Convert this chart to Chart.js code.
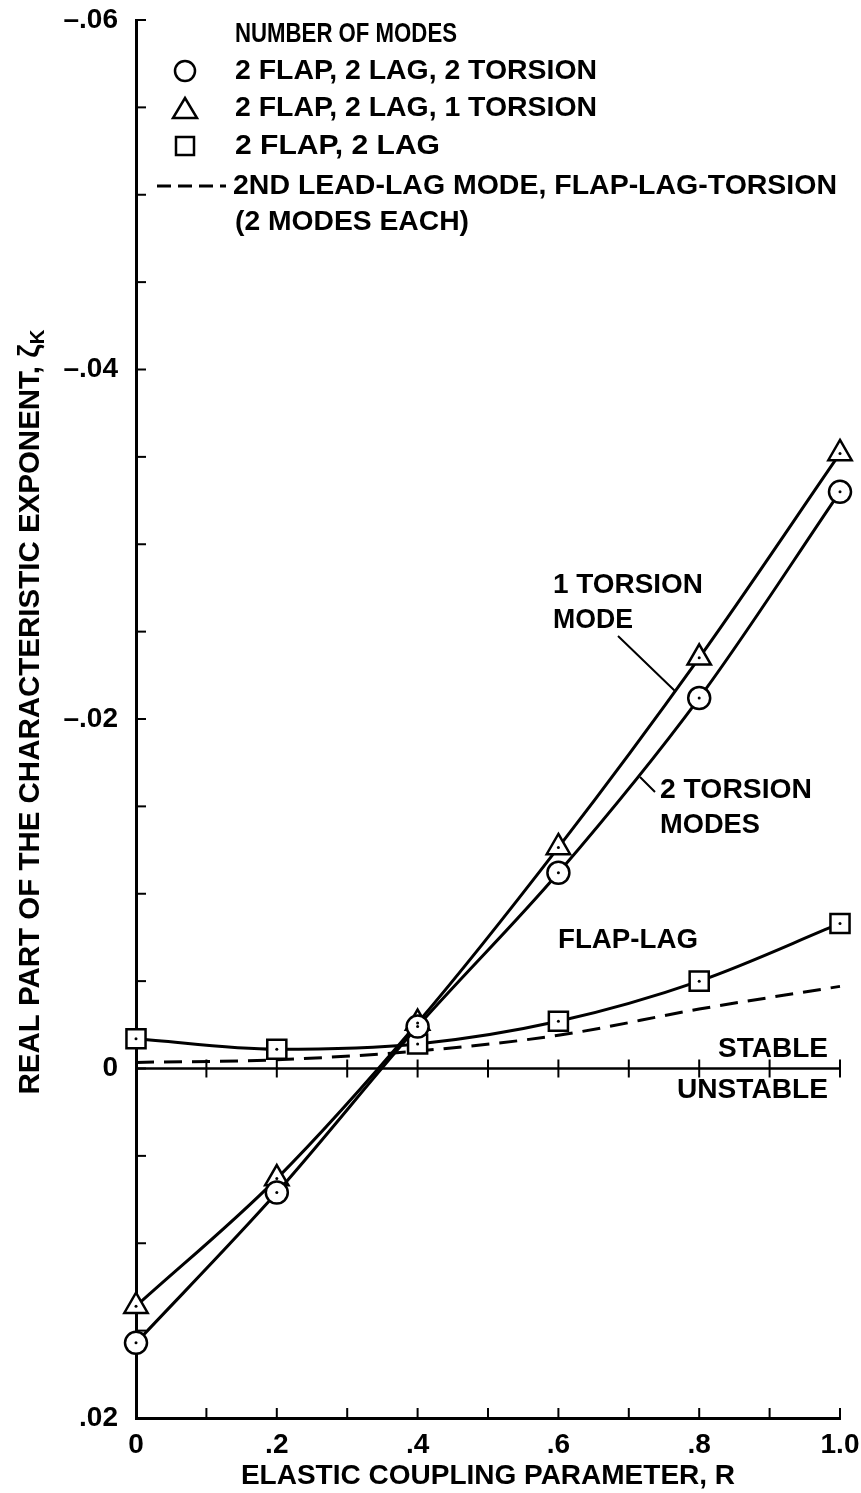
<!DOCTYPE html>
<html>
<head>
<meta charset="utf-8">
<script src="https://cdn.jsdelivr.net/npm/chart.js@4.4.1/dist/chart.umd.min.js"></script>
<style>
  html, body { margin: 0; padding: 0; background: #fff; }
  #wrap { width: 861px; height: 1493px; }
</style>
</head>
<body>
<div id="wrap"><canvas id="modesChart" width="861" height="1493"></canvas></div>
<script>
// Elastic coupling parameter R
const couplingR = [0, 0.2, 0.4, 0.6, 0.8, 1.0];
// Real part of the characteristic exponent for each mode set
const flapLagTorsion2 = [0.0157, 0.0071, -0.0024, -0.0112, -0.0212, -0.0330];
const flapLagTorsion1 = [0.0136, 0.0063, -0.0026, -0.01265, -0.0235, -0.0352];
const flapLagOnly = [-0.0017, -0.0011, -0.0014, -0.0027, -0.0050, -0.0083];
const secondLeadLag = [-0.00035, -0.0005, -0.0010, -0.0019, -0.0034, -0.0047];
const yTickLabels = { '-0.06': '\u2013.06', '-0.04': '\u2013.04', '-0.02': '\u2013.02', '0': '0', '0.02': '.02' };
const xTickLabels = { '0': '0', '2': '.2', '4': '.4', '6': '.6', '8': '.8', '10': '1.0' };

const FONT = '"Liberation Sans", Arial, Helvetica, sans-serif';
const INK = '#000';

const toPoints = ys => couplingR.map((r, i) => ({ x: r, y: ys[i] }));

// squeeze/stretch text horizontally so it spans a given width
function fitText(ctx, text, x, y, width, align) {
  const w = ctx.measureText(text).width;
  const k = width / w;
  ctx.save();
  ctx.translate(x, y);
  ctx.scale(k, 1);
  ctx.textAlign = align || 'left';
  ctx.fillText(text, 0, 0);
  ctx.restore();
}

const axisMarks = {
  id: 'axisMarks',
  afterDraw(chart) {
    const { ctx, chartArea, scales: { x, y } } = chart;
    ctx.save();
    ctx.strokeStyle = INK;
    ctx.lineWidth = 2;
    // inward ticks on the left axis
    y.ticks.forEach(t => {
      const py = y.getPixelForValue(t.value);
      ctx.beginPath();
      ctx.moveTo(chartArea.left, py);
      ctx.lineTo(chartArea.left + 10, py);
      ctx.stroke();
    });
    // upward ticks on the bottom axis
    x.ticks.forEach(t => {
      if (t.value === 0) return;
      const px = x.getPixelForValue(t.value);
      ctx.beginPath();
      ctx.moveTo(px, chartArea.bottom);
      ctx.lineTo(px, chartArea.bottom - 10);
      ctx.stroke();
    });
    // stable / unstable boundary at zero
    const y0 = y.getPixelForValue(0);
    ctx.lineWidth = 2.5;
    ctx.beginPath();
    ctx.moveTo(chartArea.left, y0);
    ctx.lineTo(chartArea.right, y0);
    ctx.stroke();
    ctx.lineWidth = 2;
    x.ticks.forEach(t => {
      if (t.value === 0) return;
      const px = x.getPixelForValue(t.value);
      ctx.beginPath();
      ctx.moveTo(px, y0 - 9);
      ctx.lineTo(px, y0 + 9);
      ctx.stroke();
    });
    ctx.restore();
  }
};

const centerDots = {
  id: 'centerDots',
  afterDatasetsDraw(chart) {
    const { ctx } = chart;
    ctx.save();
    ctx.fillStyle = INK;
    chart.data.datasets.forEach((ds, i) => {
      if (!ds.pointRadius) return;
      chart.getDatasetMeta(i).data.forEach(pt => {
        ctx.beginPath();
        ctx.arc(pt.x, pt.y, 1.5, 0, Math.PI * 2);
        ctx.fill();
      });
    });
    ctx.restore();
  }
};

const textLayer = {
  id: 'textLayer',
  afterDraw(chart) {
    const { ctx } = chart;
    ctx.save();
    ctx.fillStyle = INK;
    ctx.strokeStyle = INK;
    ctx.textBaseline = 'middle';
    ctx.font = 'bold 28px ' + FONT;

    // key
    fitText(ctx, 'NUMBER OF MODES', 235, 34, 222);
    fitText(ctx, '2 FLAP, 2 LAG, 2 TORSION', 235, 71, 362);
    fitText(ctx, '2 FLAP, 2 LAG, 1 TORSION', 235, 108, 362);
    fitText(ctx, '2 FLAP, 2 LAG', 235, 146, 205);
    fitText(ctx, '2ND LEAD-LAG MODE, FLAP-LAG-TORSION', 233, 186, 604);
    fitText(ctx, '(2 MODES EACH)', 235, 222, 234);

    ctx.lineWidth = 2.5;
    ctx.beginPath();
    ctx.arc(185, 71, 10, 0, Math.PI * 2);
    ctx.stroke();
    ctx.beginPath();
    ctx.moveTo(185, 98);
    ctx.lineTo(197, 118);
    ctx.lineTo(173, 118);
    ctx.closePath();
    ctx.stroke();
    ctx.strokeRect(176, 137, 18, 18);
    ctx.lineWidth = 3;
    ctx.setLineDash([14, 7]);
    ctx.beginPath();
    ctx.moveTo(157, 186);
    ctx.lineTo(226, 186);
    ctx.stroke();
    ctx.setLineDash([]);

    // curve labels
    fitText(ctx, '1 TORSION', 553, 585, 150);
    fitText(ctx, 'MODE', 553, 620, 80);
    fitText(ctx, '2 TORSION', 660, 790, 152);
    fitText(ctx, 'MODES', 660, 825, 100);
    fitText(ctx, 'FLAP-LAG', 558, 940, 140);
    fitText(ctx, 'STABLE', 828, 1049, 110, 'right');
    fitText(ctx, 'UNSTABLE', 828, 1090, 151, 'right');

    ctx.lineWidth = 2;
    ctx.beginPath();
    ctx.moveTo(618, 636);
    ctx.lineTo(675, 691);
    ctx.moveTo(640, 777);
    ctx.lineTo(655, 792);
    ctx.stroke();

    // vertical axis title with subscript K
    const main = 'REAL PART OF THE CHARACTERISTIC EXPONENT, \u03B6';
    ctx.font = 'bold 29px ' + FONT;
    const wMain = ctx.measureText(main).width;
    ctx.font = 'bold 20px ' + FONT;
    const wSub = ctx.measureText('K').width;
    const k = 765 / (wMain + wSub);
    ctx.translate(31, 712);
    ctx.rotate(-Math.PI / 2);
    ctx.scale(k, 1);
    const x0 = -(wMain + wSub) / 2;
    ctx.textAlign = 'left';
    ctx.font = 'bold 29px ' + FONT;
    ctx.fillText(main, x0, 0);
    ctx.font = 'bold 20px ' + FONT;
    ctx.fillText('K', x0 + wMain, 7);
    ctx.restore();
  }
};

const tickFont = { family: FONT, size: 28, weight: 'bold' };

new Chart(document.getElementById('modesChart'), {
  type: 'line',
  data: {
    datasets: [
      {
        label: '2 FLAP, 2 LAG, 2 TORSION',
        data: toPoints(flapLagTorsion2),
        borderColor: INK, borderWidth: 3,
        pointStyle: 'circle', pointRadius: 11,
        pointBackgroundColor: '#fff', pointBorderColor: INK, pointBorderWidth: 2.5,
        cubicInterpolationMode: 'monotone', clip: false
      },
      {
        label: '2 FLAP, 2 LAG, 1 TORSION',
        data: toPoints(flapLagTorsion1),
        borderColor: INK, borderWidth: 3,
        pointStyle: 'triangle', pointRadius: 13.5,
        pointBackgroundColor: '#fff', pointBorderColor: INK, pointBorderWidth: 2.5,
        cubicInterpolationMode: 'monotone', clip: false
      },
      {
        label: '2 FLAP, 2 LAG',
        data: toPoints(flapLagOnly),
        borderColor: INK, borderWidth: 3,
        pointStyle: 'rect', pointRadius: 13.5,
        pointBackgroundColor: '#fff', pointBorderColor: INK, pointBorderWidth: 2.5,
        cubicInterpolationMode: 'monotone', clip: false
      },
      {
        label: '2ND LEAD-LAG MODE',
        data: toPoints(secondLeadLag),
        borderColor: INK, borderWidth: 3, borderDash: [18, 10],
        pointRadius: 0,
        cubicInterpolationMode: 'monotone', clip: false
      }
    ]
  },
  options: {
    responsive: false,
    animation: false,
    layout: { padding: { top: 20, right: 21, left: 0, bottom: 0 } },
    plugins: { legend: { display: false }, tooltip: { enabled: false } },
    scales: {
      x: {
        type: 'linear', min: 0, max: 1,
        afterFit: s => { s.height = 75; s.paddingLeft = 0; s.paddingRight = 0; },
        grid: { display: false, drawTicks: false },
        border: { display: true, color: INK, width: 3 },
        ticks: {
          stepSize: 0.1, autoSkip: false, maxRotation: 0, padding: 10,
          color: INK, font: tickFont,
          callback: v => xTickLabels[String(Math.round(v * 10))] || ''
        },
        title: {
          display: true, text: 'ELASTIC COUPLING PARAMETER, R',
          color: INK, font: tickFont, padding: { top: 0, bottom: 0 }
        }
      },
      y: {
        type: 'linear', reverse: true, min: -0.06, max: 0.02,
        afterFit: s => { s.width = 136; s.paddingTop = 0; s.paddingBottom = 0; },
        grid: { display: false, drawTicks: false },
        border: { display: true, color: INK, width: 3 },
        ticks: {
          stepSize: 0.005, autoSkip: false, padding: 18,
          color: INK, font: tickFont,
          callback: v => {
            const key = String(Math.round(v * 100) / 100);
            return Math.abs(v * 50 - Math.round(v * 50)) < 1e-6 ? (yTickLabels[key] || '') : '';
          }
        }
      }
    }
  },
  plugins: [axisMarks, centerDots, textLayer]
});
</script>
</body>
</html>
